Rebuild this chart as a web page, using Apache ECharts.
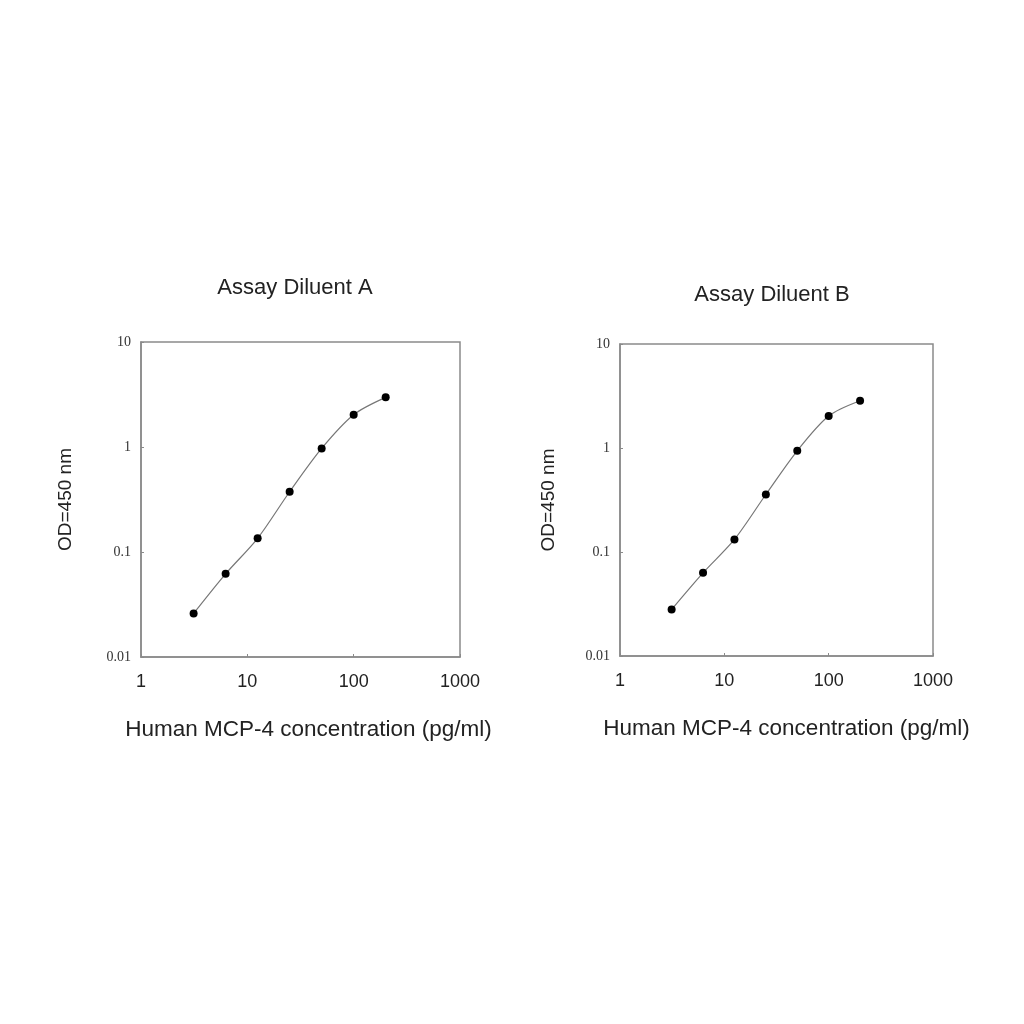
<!DOCTYPE html>
<html>
<head>
<meta charset="utf-8">
<title>Human MCP-4 standard curves</title>
<script src="https://cdn.jsdelivr.net/npm/echarts@6/dist/echarts.min.js"></script>
<style>
  html, body { margin: 0; padding: 0; background: #fff; }
  #main { width: 1024px; height: 1024px; }
</style>
</head>
<body>
<div id="main"></div>
<script>
// standard curve, concentration in pg/ml
const concentrations = [3.125, 6.25, 12.5, 25, 50, 100, 200];
const odDiluentA = [0.026, 0.062, 0.135, 0.375, 0.97, 2.03, 2.97];
const odDiluentB = [0.028, 0.063, 0.132, 0.357, 0.94, 2.03, 2.85];
const panelTitles = ['Assay Diluent A', 'Assay Diluent B'];
const xName = 'Human MCP-4 concentration (pg/ml)';
const yName = 'OD=450 nm';

const chart = echarts.init(document.getElementById('main'));

const textColor = '#222';
const boxColor = '#8a8a8a';

const pairs = (ys) => concentrations.map((c, i) => [c, ys[i]]);

// plain numbers, no thousands separator
const plain = (v) => String(+Number(v).toPrecision(1));

const makeX = (gridIndex, shift) => ({
  type: 'log',
  logBase: 10,
  gridIndex,
  min: 1,
  max: 1000,
  name: xName,
  nameLocation: 'middle',
  nameGap: 61,
  nameTextStyle: { fontFamily: 'Liberation Sans', fontSize: 22.5, color: textColor, padding: [0, 0, 0, shift] },
  axisLine: { show: true, lineStyle: { color: boxColor, width: 1.5 } },
  axisTick: { show: true, inside: true, length: 3, lineStyle: { color: boxColor } },
  minorTick: { show: false },
  splitLine: { show: false },
  axisLabel: { fontFamily: 'Liberation Sans', fontSize: 18, color: textColor, margin: 16, formatter: plain }
});

const makeY = (gridIndex, gap) => ({
  type: 'log',
  logBase: 10,
  gridIndex,
  min: 0.01,
  max: 10,
  name: yName,
  nameLocation: 'middle',
  nameGap: gap,
  nameRotate: 90,
  nameTextStyle: { fontFamily: 'Liberation Sans', fontSize: 19, color: textColor },
  axisLine: { show: true, lineStyle: { color: boxColor, width: 1.5 } },
  axisTick: { show: true, inside: true, length: 3, lineStyle: { color: boxColor } },
  splitLine: { show: false },
  axisLabel: { fontFamily: 'Liberation Serif', fontSize: 14, color: '#333', margin: 10, formatter: plain }
});

const makeSeries = (idx, ys) => ({
  type: 'line',
  xAxisIndex: idx,
  yAxisIndex: idx,
  data: pairs(ys),
  smooth: 0.3,
  symbol: 'circle',
  symbolSize: 8,
  itemStyle: { color: '#000' },
  lineStyle: { color: '#777', width: 1.2 }
});

const titleStyle = { fontFamily: 'Liberation Sans', fontSize: 22, fontWeight: 'normal', color: textColor };

chart.setOption({
  backgroundColor: '#fff',
  animation: false,
  title: [
    { text: panelTitles[0], left: 290, top: 272, textAlign: 'center', textStyle: titleStyle },
    { text: panelTitles[1], left: 767, top: 279, textAlign: 'center', textStyle: titleStyle }
  ],
  grid: [
    { left: 141, top: 342, width: 319, height: 315, show: true, borderColor: boxColor, borderWidth: 1.5 },
    { left: 620, top: 344, width: 313, height: 312, show: true, borderColor: boxColor, borderWidth: 1.5 }
  ],
  xAxis: [makeX(0, 16), makeX(1, 20)],
  yAxis: [makeY(0, 66), makeY(1, 62)],
  series: [makeSeries(0, odDiluentA), makeSeries(1, odDiluentB)]
});
</script>
</body>
</html>
